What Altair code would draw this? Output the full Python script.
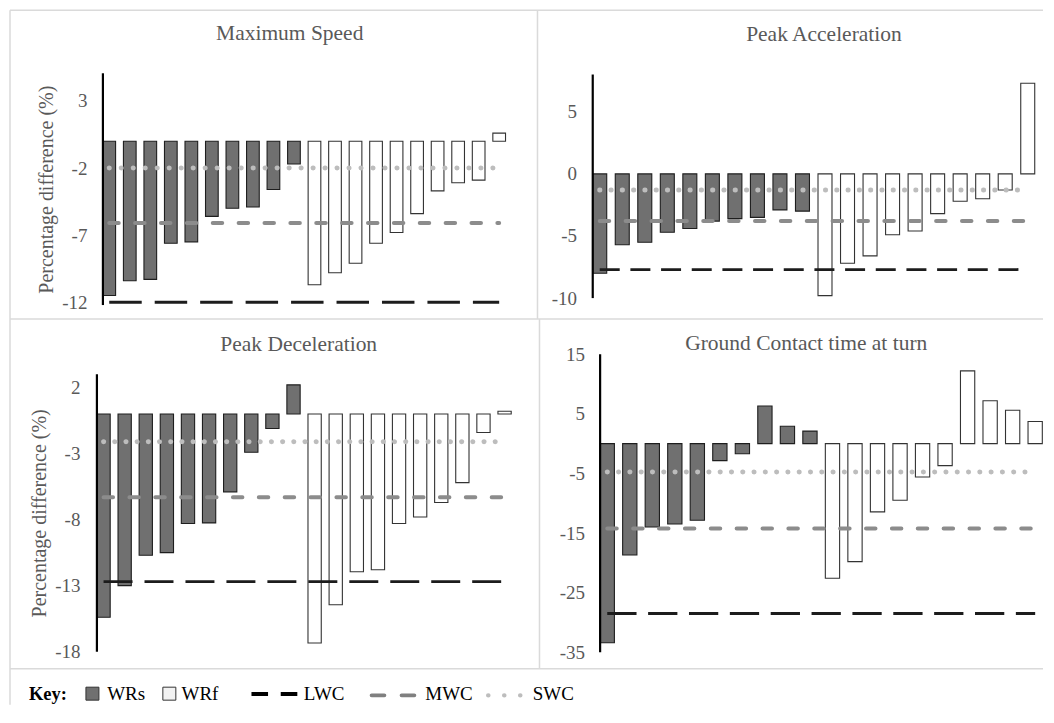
import altair as alt
import pandas as pd

FONT = "Liberation Serif, Times New Roman, serif"
GREY_TXT = "#595959"

# ---------------- data ----------------
categories = list(range(1, 21))
groups = ["WRs"] * 10 + ["WRf"] * 10

max_speed = [-11.5, -10.4, -10.3, -7.6, -7.5, -5.6, -5.0, -4.9, -3.6, -1.7,
             -10.7, -9.8, -9.1, -7.6, -6.8, -5.4, -3.7, -3.1, -2.9, 0.6]
peak_acc = [-8.0, -5.7, -5.5, -4.7, -4.4, -3.8, -3.6, -3.5, -2.9, -3.0,
            -9.8, -7.2, -6.6, -4.9, -4.6, -3.2, -2.2, -2.0, -1.3, 7.3]
peak_dec = [-15.4, -13.0, -10.7, -10.5, -8.3, -8.25, -5.9, -2.9, -1.1, 2.2,
            -17.35, -14.45, -11.95, -11.8, -8.3, -7.8, -6.7, -5.2, -1.4, 0.2]
gct_turn = [-33.4, -18.7, -14.0, -13.5, -12.85, -2.85, -1.7, 6.3, 2.9, 2.1,
            -22.6, -19.8, -11.45, -9.5, -5.6, -3.7, 12.2, 7.2, 5.6, 3.7]

ref_names = ["LWC", "MWC", "SWC"]
max_speed_ref = [-12.0, -6.1, -2.0]
peak_acc_ref = [-7.7, -3.8, -1.3]
peak_dec_ref = [-12.7, -6.3, -2.1]
gct_turn_ref = [-28.5, -14.25, -4.75]

max_speed_ticks = [3, -2, -7, -12]
peak_acc_ticks = [5, 0, -5, -10]
peak_dec_ticks = [2, -3, -8, -13, -18]
gct_turn_ticks = [15, 5, -5, -15, -25, -35]

titles = ["Maximum Speed", "Peak Acceleration", "Peak Deceleration",
          "Ground Contact time at turn"]
y_title = "Percentage difference (%)"
key_title = "Key:"
key_labels = ["WRs", "WRf", "LWC", "MWC", "SWC"]

WRS_FILL = "#707070"
WRF_FILL = "#ffffff"
LWC_COL = "#1c1c1c"
MWC_COL = "#8c8c8c"
SWC_COL = "#bdbdbd"
BORDER = "#dadada"


def panel(title, values, refs, ticks, domain, axis_span, band, w, h,
          lwc_dash, swc_gap, title_offset, title_dx, label_pad,
          show_ytitle, title_y=None):
    df = pd.DataFrame({"cat": categories, "value": values, "group": groups})
    xs = alt.Scale(paddingInner=band[0], paddingOuter=band[1], align=band[2])
    x = alt.X("cat:O", axis=None, scale=xs)
    axis_kw = dict(values=ticks, domain=False, ticks=False, tickSize=0, grid=False,
                   labelFont=FONT, labelFontSize=19, labelColor=GREY_TXT,
                   labelFontWeight="normal",
                   labelPadding=label_pad, labelExpr="datum.value + ''")
    if show_ytitle:
        axis_kw.update(title=y_title, titleFont=FONT, titleFontSize=20,
                       titleFontWeight="normal", titleColor=GREY_TXT, titlePadding=5)
        if title_y is not None:
            axis_kw.update(titleY=title_y)
    else:
        axis_kw.update(title=None)
    y = alt.Y("value:Q", scale=alt.Scale(domain=domain, nice=False, zero=False),
              axis=alt.Axis(**axis_kw))

    bars = alt.Chart(df).mark_bar(strokeWidth=1.1).encode(
        x=x, y=y, y2=alt.datum(0),
        fill=alt.Fill("group:N", scale=alt.Scale(domain=["WRs", "WRf"],
                                                 range=[WRS_FILL, WRF_FILL]), legend=None),
        stroke=alt.Stroke("group:N", scale=alt.Scale(domain=["WRs", "WRf"],
                                                     range=["#1e1e1e", "#333333"]), legend=None),
    )

    def ref_line(val, color, width, dash, cap):
        rdf = pd.DataFrame({"cat": [categories[0], categories[-1]], "value": [val, val]})
        return alt.Chart(rdf).mark_line(color=color, strokeWidth=width,
                                        strokeDash=dash, strokeCap=cap).encode(
            x=alt.X("cat:O"), y=alt.Y("value:Q"))

    lwc = ref_line(refs[0], LWC_COL, 2.8, lwc_dash, "butt")
    mwc = ref_line(refs[1], MWC_COL, 4, [9.5, 16.4], "round")
    swc = ref_line(refs[2], SWC_COL, 5, [0.1, swc_gap], "round")

    axis_df = pd.DataFrame({"cat": [categories[0]]})
    axis_line = alt.Chart(axis_df).mark_rule(color="#000000", strokeWidth=2.2).encode(
        x=alt.XDatum(categories[0], type="ordinal", bandPosition=0),
        y=alt.datum(axis_span[0]), y2=alt.datum(axis_span[1]))

    return alt.layer(bars, swc, mwc, lwc, axis_line).properties(
        width=w, height=h,
        title=alt.TitleParams(text=title, font=FONT, fontSize=21.5, fontWeight="normal",
                              color=GREY_TXT, frame="group", anchor="middle",
                              baseline="alphabetic", offset=title_offset, dx=title_dx))


p1 = panel(titles[0], max_speed, max_speed_ref, max_speed_ticks, [-12.21, 5.06],
           [5.06, -12.21], (0.382, 0.292, 0.5), 415, 232, [32.5, 13], 11.9,
           11, -14.5, 10, True)
p2 = panel(titles[1], peak_acc, peak_acc_ref, peak_acc_ticks, [-10.56, 8.1],
           [8, -10], (0.379, 0.035, 0.19), 444, 232, [20, 10.7], 11.2,
           11, 9.7, 16, False)
p3 = panel(titles[2], peak_dec, peak_dec_ref, peak_dec_ticks, [-18.08, 4.54],
           [3, -18], (0.371, 0.007, 0.0), 415, 299, [29, 12], 11.1,
           -18, -5.5, 17, True, 159)
p4 = panel(titles[3], gct_turn, gct_turn_ref, gct_turn_ticks, [-35.08, 15.03],
           [15, -35], (0.366, 0.186, 0.917), 451, 299, [29.3, 11.6], 11.2,
           -26, -11.5, 8, False)

# ---------------- key row and table borders (layout graphics) ----------------
one = pd.DataFrame({"k": [0]})


def hline(x1, x2, y, color=BORDER, width=1.5, dash=None, cap="butt"):
    kw = dict(color=color, strokeWidth=width, strokeCap=cap)
    if dash:
        kw["strokeDash"] = dash
    return alt.Chart(one).mark_rule(**kw).encode(
        x=alt.value(x1), x2=alt.value(x2), y=alt.value(y))


def vline(x, y1, y2):
    return alt.Chart(one).mark_rule(color=BORDER, strokeWidth=1.5).encode(
        x=alt.value(x), y=alt.value(y1), y2=alt.value(y2))


def label(txt, x, bold=False):
    return alt.Chart(one).mark_text(font=FONT, fontSize=18.5 if bold else 19,
                                    fontWeight="bold" if bold else "normal",
                                    color="#000000", align="left",
                                    baseline="alphabetic").encode(
        x=alt.value(x), y=alt.value(-1.3), text=alt.value(txt))


def swatch(x, fill):
    return alt.Chart(one).mark_rect(fill=fill, stroke="#333333", strokeWidth=1).encode(
        x=alt.value(x), x2=alt.value(x + 13), y=alt.value(-14.5), y2=alt.value(-1.5))


key_layers = [
    hline(-87, 947, -692), vline(-87, -692, 3), vline(441, -692, -383),
    vline(443, -383, -33), hline(-87, 947, -383), hline(-87, 947, -33),
    label(key_title, -68, bold=True),
    swatch(-11, WRS_FILL), label(key_labels[0], 10.3),
    swatch(66, "#f2f2f2"), label(key_labels[1], 84.7),
    hline(154.7, 200.7, -7.7, color="#000000", width=4, dash=[16.6, 12.7]),
    label(key_labels[2], 207),
    hline(275, 317.7, -6.3, color="#808080", width=4, dash=[12.7, 17.3], cap="round"),
    label(key_labels[3], 328.7),
    hline(391.7, 424, -6.3, color=SWC_COL, width=4.5, dash=[0.1, 15.9], cap="round"),
    label(key_labels[4], 436.3),
]
key = alt.layer(*key_layers).properties(width=1, height=1)

chart = alt.concat(p1, p2, p3, p4, key, columns=2, spacing={"row": 49, "column": 81},
                   bounds="flush", align="none").properties(
    padding={"left": 1, "top": 1, "right": 0, "bottom": 0}
).configure_view(stroke=None)

chart.save("out.html", embed_options={"renderer": "svg", "actions": False})
